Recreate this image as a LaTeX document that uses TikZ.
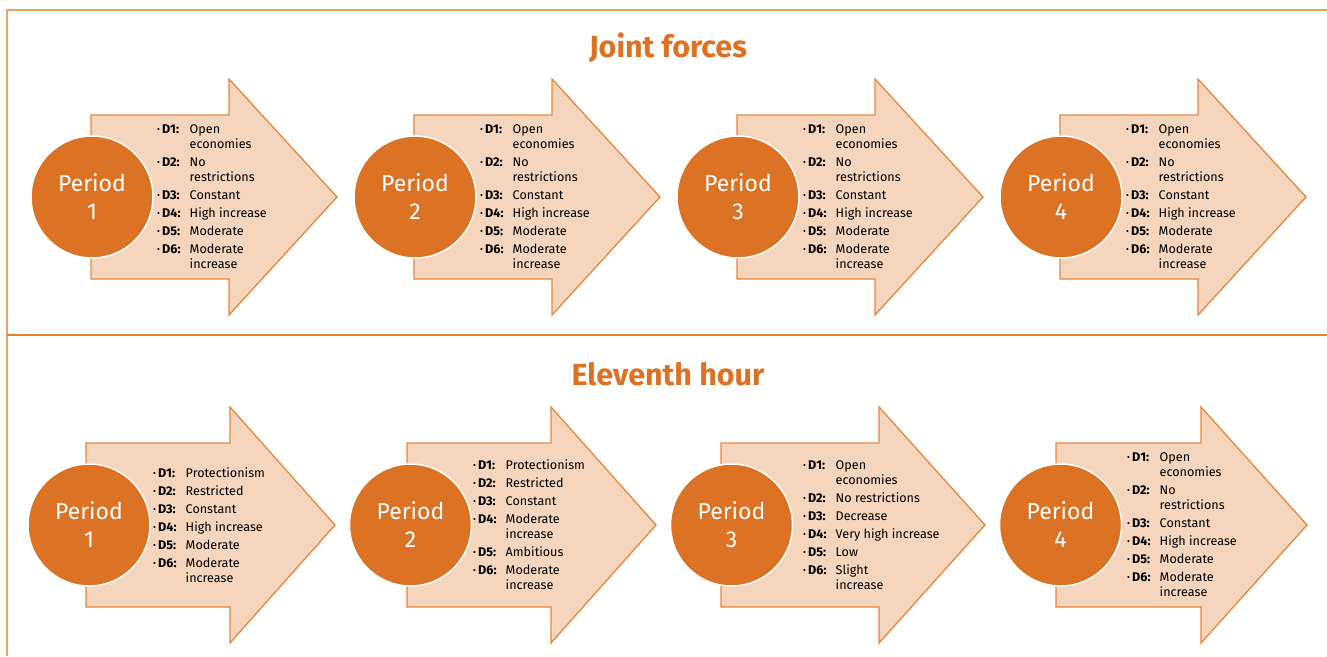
\documentclass[tikz,border=0pt]{standalone}
\usepackage{fontspec}
\setmainfont{Fira Sans}
\definecolor{framec}{RGB}{238,162,104}
\definecolor{divc}{RGB}{232,128,52}
\definecolor{arrowfill}{RGB}{245,213,188}
\definecolor{arrowline}{RGB}{232,135,62}
\definecolor{circc}{RGB}{220,114,36}
\definecolor{titlec}{RGB}{222,114,34}
\newcommand\mybul{\makebox[5pt][l]{\raisebox{1pt}{\scalebox{0.7}{\textbullet}}}}
\newcommand\ditem[2]{\mybul\makebox[27.5pt][l]{\textbf{#1}}#2}
\newcommand\dcont[1]{\hspace*{32.5pt}#1}
\newcommand\bigarrow[4]{%
  \draw[arrowbox] ({#1},{#4-82}) -- ({#2},{#4-82}) -- ({#2},{#4-118}) -- ({#3},{#4})
    -- ({#2},{#4+118}) -- ({#2},{#4+82}) -- ({#1},{#4+82}) -- cycle;}
\begin{document}
\begin{tikzpicture}[x=1pt,y=-1pt,
  arrowbox/.style={fill=arrowfill,draw=arrowline,line width=1.3pt,line join=miter},
  periodc/.style={circle,minimum size=122pt,inner sep=0pt,fill=circc,draw=white,line width=1.5pt,
    text=white,align=center,font=\fontsize{23}{28}\selectfont},
  dlist/.style={anchor=west,inner sep=0pt,align=left,font=\fontsize{12.6}{15}\selectfont},
  titlet/.style={text=titlec,font=\fontsize{30.5}{36}\selectfont\bfseries},
  framel/.style={draw=framec,line width=2pt},
  divl/.style={draw=divc,line width=1.6pt}]
\useasboundingbox (0,0) rectangle (1327,656);
\fill[white] (0,0) rectangle (1327,656);
% frame
\draw[framel] (1327,10) -- (7,10) -- (7,656);
\draw[divl] (7,335) -- (1327,335);
% titles
\node[titlet] (t1) at (668,47.5) {Joint forces};
\node[titlet] (t2) at (668,374.5) {Eleventh hour};
% top arrows
\bigarrow{91}{229}{337}{197}
\bigarrow{414}{552}{660}{197}
\bigarrow{737}{875}{983}{197}
\bigarrow{1060}{1198}{1306}{197}
% bottom arrows
\bigarrow{86}{230}{335}{525}
\bigarrow{407}{551}{656}{525}
\bigarrow{721}{879}{985}{525}
\bigarrow{1056}{1201}{1307}{525}
% circles top
\node[periodc] (a1) at (92,197) {Period\\1};
\node[periodc] (a2) at (415,197) {Period\\2};
\node[periodc] (a3) at (738,197) {Period\\3};
\node[periodc] (a4) at (1061,197) {Period\\4};
% circles bottom
\node[periodc] (b1) at (89,525) {Period\\1};
\node[periodc] (b2) at (410.5,525) {Period\\2};
\node[periodc] (b3) at (731.5,525) {Period\\3};
\node[periodc] (b4) at (1060.5,525) {Period\\4};
% lists top
\foreach \x/\n in {157/la1,480/la2,803/la3,1126/la4}{
\node[dlist] (\n) at (\x,197) {\ditem{D1:}{Open}\\ \dcont{economies}\\[3pt]
\ditem{D2:}{No}\\ \dcont{restrictions}\\[3pt]
\ditem{D3:}{Constant}\\[3pt]
\ditem{D4:}{High increase}\\[3pt]
\ditem{D5:}{Moderate}\\[3pt]
\ditem{D6:}{Moderate}\\ \dcont{increase}};
}
% lists bottom
\node[dlist] (lb1) at (153,525) {\ditem{D1:}{Protectionism}\\[3pt]
\ditem{D2:}{Restricted}\\[3pt]
\ditem{D3:}{Constant}\\[3pt]
\ditem{D4:}{High increase}\\[3pt]
\ditem{D5:}{Moderate}\\[3pt]
\ditem{D6:}{Moderate}\\ \dcont{increase}};
\node[dlist] (lb2) at (473,525) {\ditem{D1:}{Protectionism}\\[3pt]
\ditem{D2:}{Restricted}\\[3pt]
\ditem{D3:}{Constant}\\[3pt]
\ditem{D4:}{Moderate}\\ \dcont{increase}\\[3pt]
\ditem{D5:}{Ambitious}\\[3pt]
\ditem{D6:}{Moderate}\\ \dcont{increase}};
\node[dlist] (lb3) at (803,525) {\ditem{D1:}{Open}\\ \dcont{economies}\\[3pt]
\ditem{D2:}{No restrictions}\\[3pt]
\ditem{D3:}{Decrease}\\[3pt]
\ditem{D4:}{Very high increase}\\[3pt]
\ditem{D5:}{Low}\\[3pt]
\ditem{D6:}{Slight}\\ \dcont{increase}};
\node[dlist] (lb4) at (1127,525) {\ditem{D1:}{Open}\\ \dcont{economies}\\[3pt]
\ditem{D2:}{No}\\ \dcont{restrictions}\\[3pt]
\ditem{D3:}{Constant}\\[3pt]
\ditem{D4:}{High increase}\\[3pt]
\ditem{D5:}{Moderate}\\[3pt]
\ditem{D6:}{Moderate}\\ \dcont{increase}};
\end{tikzpicture}
\end{document}
